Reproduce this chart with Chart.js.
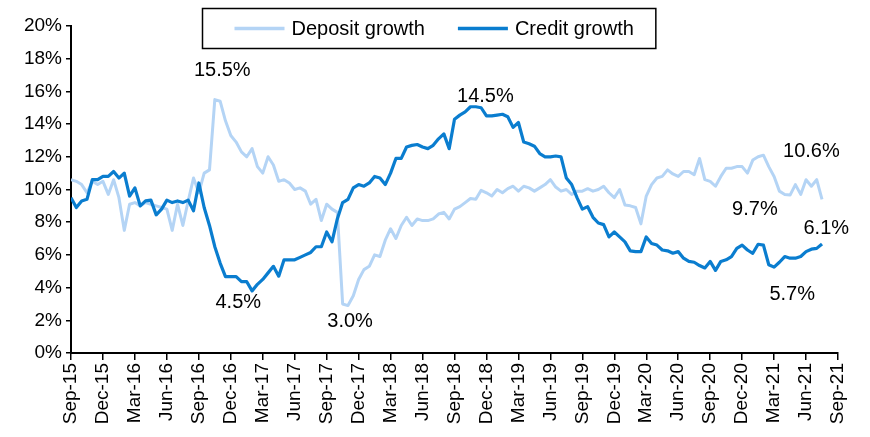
<!DOCTYPE html>
<html>
<head>
<meta charset="utf-8">
<script src="https://cdn.jsdelivr.net/npm/chart.js@4.4.0/dist/chart.umd.min.js"></script>
<style>
  html, body { margin: 0; padding: 0; background: #fff; }
  #wrap { width: 870px; height: 437px; }
</style>
</head>
<body>
<div id="wrap"><canvas id="growthChart" width="870" height="437"></canvas></div>
<script>
// quarter tick labels, Sep-15 .. Sep-21
const quarterLabels = ["Sep-15", "Dec-15", "Mar-16", "Jun-16", "Sep-16", "Dec-16", "Mar-17", "Jun-17",
    "Sep-17", "Dec-17", "Mar-18", "Jun-18", "Sep-18", "Dec-18", "Mar-19", "Jun-19",
    "Sep-19", "Dec-19", "Mar-20", "Jun-20", "Sep-20", "Dec-20", "Mar-21", "Jun-21", "Sep-21"];

// fortnightly y/y growth, %, starting Sep-15
const depositGrowth = [10.6, 10.5, 10.3, 9.8, 10.5, 10.3, 10.5, 9.7, 10.6, 9.5,
    7.5, 9.1, 9.2, 9.0, 9.2, 9.1, 9.0, 8.9, 8.8, 7.5,
    9.1, 7.8, 9.3, 10.7, 9.8, 11.0, 11.2, 15.5, 15.4, 14.2,
    13.3, 12.9, 12.3, 12.0, 12.5, 11.4, 11.0, 12.0, 11.5, 10.5,
    10.6, 10.4, 10.0, 10.1, 9.9, 9.1, 9.4, 8.1, 9.1, 8.8,
    8.6, 3.0, 2.9, 3.5, 4.5, 5.1, 5.3, 6.0, 5.9, 6.9,
    7.6, 7.0, 7.8, 8.3, 7.8, 8.2, 8.1, 8.1, 8.2, 8.5,
    8.6, 8.2, 8.8, 8.95, 9.2, 9.45, 9.4, 9.95, 9.8, 9.6,
    10.0, 9.8, 10.05, 10.2, 9.9, 10.2, 10.1, 9.9, 10.1, 10.3,
    10.6, 10.15, 9.9, 10.0, 9.7, 9.9, 9.9, 10.05, 9.9, 10.0,
    10.2, 9.8, 9.5, 10.0, 9.05, 9.0, 8.9, 7.9, 9.6, 10.3,
    10.7, 10.8, 11.2, 10.95, 10.8, 11.1, 11.1, 10.9, 11.9, 10.6,
    10.5, 10.2, 10.8, 11.3, 11.3, 11.4, 11.4, 11.0, 11.8, 12.0,
    12.1, 11.4, 10.8, 9.9, 9.7, 9.66, 10.3, 9.7, 10.6, 10.2,
    10.6, 9.4];

const creditGrowth = [9.5, 8.9, 9.3, 9.4, 10.6, 10.6, 10.8, 10.8, 11.1, 10.7,
    11.0, 9.6, 10.1, 9.0, 9.3, 9.35, 8.45, 8.8, 9.35, 9.2,
    9.3, 9.2, 9.35, 8.7, 10.4, 8.9, 7.8, 6.5, 5.5, 4.67,
    4.67, 4.67, 4.36, 4.36, 3.8, 4.2, 4.5, 4.9, 5.3, 4.7,
    5.7, 5.7, 5.7, 5.85, 6.0, 6.15, 6.5, 6.5, 7.4, 6.8,
    8.2, 9.2, 9.4, 10.1, 10.3, 10.2, 10.4, 10.8, 10.7, 10.3,
    11.0, 11.9, 11.9, 12.6, 12.7, 12.75, 12.6, 12.5, 12.7, 13.1,
    13.4, 12.5, 14.3, 14.55, 14.75, 15.06, 15.06, 15.0, 14.5, 14.5,
    14.55, 14.6, 14.45, 13.8, 14.1, 12.9, 12.8, 12.65, 12.2, 12.0,
    12.0, 12.05, 12.0, 10.7, 10.3, 9.5, 8.8, 8.95, 8.3, 7.95,
    7.85, 7.1, 7.4, 7.1, 6.8, 6.25, 6.2, 6.2, 7.1, 6.7,
    6.6, 6.3, 6.25, 6.1, 6.2, 5.8, 5.6, 5.55, 5.35, 5.2,
    5.6, 5.05, 5.6, 5.7, 5.9, 6.4, 6.6, 6.3, 6.1, 6.65,
    6.6, 5.4, 5.25, 5.55, 5.9, 5.8, 5.8, 5.9, 6.2, 6.35,
    6.4, 6.67];

const seriesNames = ["Deposit growth", "Credit growth"];
const seriesColors = ["#b4d4f5", "#0a7dcf"];

// call-out labels: text, month since Sep-15, value
const noteTexts = ["15.5%", "4.5%", "3.0%", "14.5%", "10.6%", "9.7%", "6.1%", "5.7%"];
const noteMonths = [14.2, 15.7, 26.2, 38.9, 69.5, 64.2, 70.9, 67.7];
const noteValues = [17.3, 3.1, 1.9, 15.7, 12.3, 8.8, 7.6, 3.6];

const FONT = "'Liberation Sans', Arial, sans-serif";

// x in months: each point is half a month apart
const toPoints = arr => arr.map((v, i) => ({ x: i / 2, y: v }));

const notesPlugin = {
    id: "notes",
    afterDatasetsDraw(chart) {
        const ctx = chart.ctx;
        const xs = chart.scales.x, ys = chart.scales.y;
        ctx.save();
        ctx.font = "20px " + FONT;
        ctx.fillStyle = "#000";
        ctx.textAlign = "center";
        ctx.textBaseline = "middle";
        noteTexts.forEach((t, i) => {
            ctx.fillText(t, xs.getPixelForValue(noteMonths[i]), ys.getPixelForValue(noteValues[i]));
        });
        ctx.restore();
    }
};

// boxed legend sitting over the top of the plot
const boxLegendPlugin = {
    id: "boxLegend",
    afterDraw(chart) {
        const ctx = chart.ctx;
        ctx.save();
        ctx.font = "20px " + FONT;
        const lineW = 50, gap = 7, between = 33, padL = 32, padR = 22;
        const w0 = ctx.measureText(seriesNames[0]).width;
        const w1 = ctx.measureText(seriesNames[1]).width;
        const total = padL + lineW + gap + w0 + between + lineW + gap + w1 + padR;
        const left = 202.5;
        const top = 8.5, h = 40;
        ctx.fillStyle = "#fff";
        ctx.fillRect(left, top, total, h);
        ctx.strokeStyle = "#000";
        ctx.lineWidth = 1.5;
        ctx.strokeRect(left, top, total, h);
        const cy = top + h / 2;
        let x = left + padL;
        ctx.textBaseline = "middle";
        ctx.textAlign = "left";
        [w0, w1].forEach((w, i) => {
            ctx.strokeStyle = seriesColors[i];
            ctx.lineWidth = 3.5;
            ctx.beginPath();
            ctx.moveTo(x, cy);
            ctx.lineTo(x + lineW, cy);
            ctx.stroke();
            x += lineW + gap;
            ctx.fillStyle = "#000";
            ctx.fillText(seriesNames[i], x, cy + 1);
            x += w + between;
        });
        ctx.restore();
    }
};

new Chart(document.getElementById("growthChart"), {
    type: "line",
    data: {
        datasets: [
            {
                label: seriesNames[0],
                data: toPoints(depositGrowth),
                borderColor: seriesColors[0],
                backgroundColor: seriesColors[0],
                borderWidth: 3,
                order: 1
            },
            {
                label: seriesNames[1],
                data: toPoints(creditGrowth),
                borderColor: seriesColors[1],
                backgroundColor: seriesColors[1],
                borderWidth: 3.2,
                order: 0
            }
        ]
    },
    options: {
        responsive: false,
        animation: false,
        layout: { padding: { top: 26, right: 32, left: 0, bottom: 0 } },
        elements: {
            point: { radius: 0 },
            line: { tension: 0, borderJoinStyle: "round" }
        },
        plugins: {
            legend: { display: false },
            tooltip: { enabled: false }
        },
        scales: {
            x: {
                type: "linear",
                min: 0,
                max: 72,
                afterFit: s => { s.height = 84; },
                ticks: {
                    stepSize: 3,
                    autoSkip: false,
                    minRotation: 90,
                    maxRotation: 90,
                    color: "#000",
                    padding: 3,
                    font: { family: FONT, size: 19 },
                    callback: v => quarterLabels[Math.round(v / 3)]
                },
                grid: { drawOnChartArea: false, color: "#000", lineWidth: 1.5, tickLength: 7 },
                border: { color: "#000", width: 2 }
            },
            y: {
                min: 0,
                max: 20,
                afterFit: s => { s.width = 71; },
                ticks: {
                    stepSize: 2,
                    color: "#000",
                    padding: 4,
                    font: { family: FONT, size: 19 },
                    callback: v => v + "%"
                },
                grid: { drawOnChartArea: false, color: "#000", lineWidth: 1.5, tickLength: 5 },
                border: { color: "#000", width: 2 }
            }
        }
    },
    plugins: [notesPlugin, boxLegendPlugin]
});
</script>
</body>
</html>
